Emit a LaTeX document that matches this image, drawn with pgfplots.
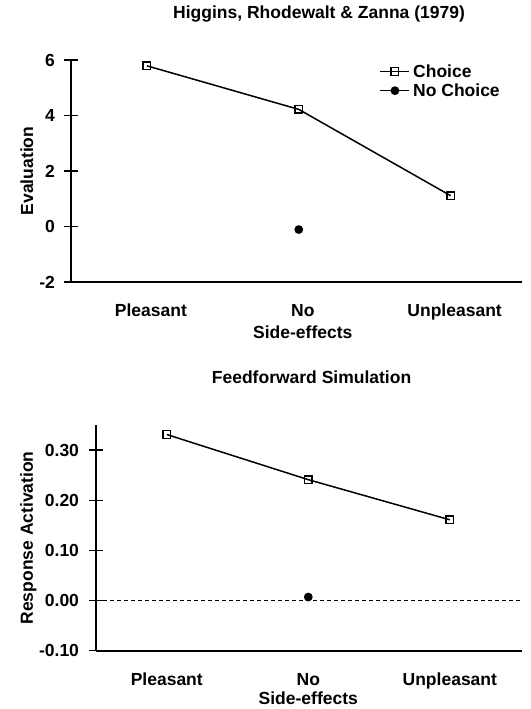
\documentclass[border=0pt]{standalone}
\usepackage{fontspec}
\setmainfont{Liberation Sans}
\usepackage{pgfplots}
\pgfplotsset{compat=1.18}
\newcommand{\fs}{\fontsize{17.5bp}{19bp}\selectfont\bfseries}
\pgfplotsset{
  panel/.style={
    scale only axis,
    clip=false,
    axis x line*=bottom,
    axis y line*=left,
    axis line style={line width=1.9bp, black},
    xtick={0,1,2},
    xticklabel style={anchor=base, yshift=-28bp},
    major x tick style={draw=none},
    major y tick style={line width=1.4bp, black},
    tick align=center,
    major tick length=13bp,
    minor tick num=0,
    tick label style={font=\fs},
    /pgf/number format/assume math mode=true,
    label style={font=\fs},
    title style={font=\fs, anchor=base},
    every axis plot/.append style={line width=1.5bp, black},
    legend style={draw=none, fill=none, font=\fs, inner sep=0pt, row sep=1bp,
      nodes={inner xsep=3bp}},
    legend cell align=left,
    legend image code/.code={\draw[mark repeat=2,mark phase=2,#1] plot coordinates {(0bp,0bp) (14.5bp,0bp) (29bp,0bp)};},
  },
  choice/.style={mark=square, mark size=3.8bp, mark options={fill=white, line width=1.5bp}},
  nochoice/.style={mark=*, mark size=3.6bp},
}
\begin{document}
\begin{tikzpicture}
\useasboundingbox (0,0) rectangle (531bp,709bp);
% top panel
\begin{axis}[panel,
  at={(71bp,427bp)}, anchor=south west,
  width=451bp, height=222bp,
  xmin=-0.5, xmax=2.47,
  ymin=-2, ymax=6,
  ytick={-2,0,2,4,6},
  xticklabels={Pleasant,{\begin{tabular}[t]{@{}c@{}}No\\[3.5bp]Side-effects\end{tabular}},Unpleasant},
  xticklabel style={xshift=4bp},
  yticklabel style={anchor=east, xshift=-6bp},
  title={Higgins, Rhodewalt \& Zanna (1979)},
  title style={at={(axis description cs:0.55,1.158)}},
  ylabel={Evaluation},
  ylabel style={at={(axis description cs:-0.084,0.5)}, anchor=base},
  legend style={at={(axis description cs:0.684,0.99)}, anchor=north west},
]
\addplot[choice] coordinates {(0,5.79) (1,4.22) (2,1.11)};
\addlegendentry{Choice}
\addplot[nochoice] coordinates {(1,-0.11)};
\addlegendentry{No Choice}
\end{axis}
% bottom panel
\begin{axis}[panel,
  at={(96bp,58.3bp)}, anchor=south west,
  width=426bp, height=225.7bp,
  xmin=-0.5, xmax=2.51,
  ymin=-0.1, ymax=0.35,
  ytick={-0.1,0,0.1,0.2,0.3},
  xticklabels={Pleasant,{\begin{tabular}[t]{@{}c@{}}No\\[0.5bp]Side-effects\end{tabular}},Unpleasant},
  yticklabel style={anchor=east, xshift=-7bp, /pgf/number format/.cd, fixed, fixed zerofill, precision=2},
  title={Feedforward Simulation},
  title style={at={(axis description cs:0.506,1.159)}},
  ylabel={Response Activation},
  ylabel style={at={(axis description cs:-0.148,0.5)}, anchor=base},
]
\addplot[black, line width=1.1bp, dash pattern=on 4bp off 3bp, forget plot] coordinates {(-0.5,0) (2.51,0)};
\addplot[choice] coordinates {(0,0.331) (1,0.241) (2,0.161)};
\addplot[nochoice] coordinates {(1,0.007)};
\end{axis}
\end{tikzpicture}
\end{document}
